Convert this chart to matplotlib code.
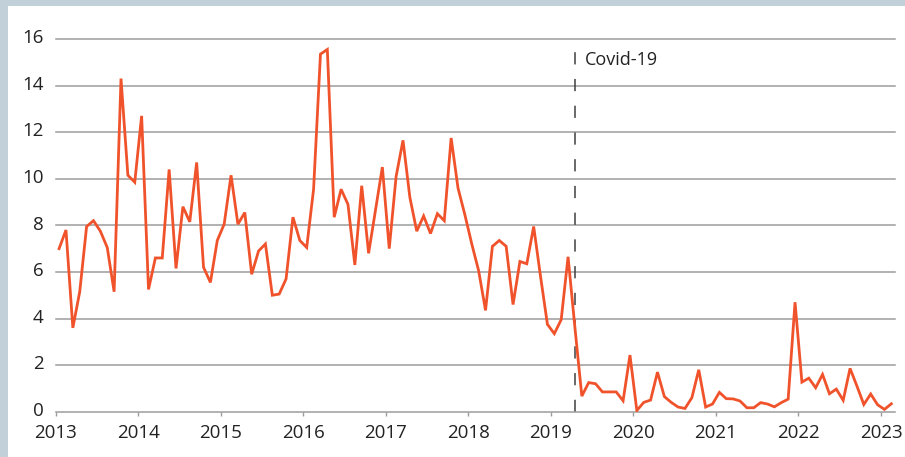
import matplotlib
matplotlib.use("Agg")
import matplotlib.pyplot as plt
import matplotlib.transforms as mtransforms
from matplotlib.patches import Rectangle
import numpy as np
import pandas as pd

# monthly values, Jan 2013 - Feb 2023
values = [
    7.0, 7.8, 3.6, 5.15, 7.95, 8.2, 7.75, 7.05, 5.15, 14.3, 10.15, 9.85,
    12.7, 5.25, 6.6, 6.6, 10.4, 6.15, 8.8, 8.15, 10.7, 6.2, 5.55, 7.35,
    8.05, 10.15, 8.05, 8.55, 5.9, 6.9, 7.2, 5.0, 5.05, 5.7, 8.35, 7.35,
    7.05, 9.55, 15.35, 15.55, 8.35, 9.55, 8.9, 6.3, 9.7, 6.8, 8.65, 10.5,
    7.0, 10.1, 11.65, 9.2, 7.75, 8.4, 7.65, 8.5, 8.2, 11.75, 9.6, 8.45,
    7.2, 6.05, 4.35, 7.1, 7.35, 7.1, 4.6, 6.45, 6.35, 7.95, 5.8, 3.75,
    3.35, 3.95, 6.65, 3.6, 0.67, 1.25, 1.2, 0.85, 0.85, 0.85, 0.47, 2.43,
    0.05, 0.4, 0.5, 1.7, 0.65, 0.4, 0.2, 0.14, 0.6, 1.8, 0.2, 0.33,
    0.83, 0.56, 0.55, 0.46, 0.17, 0.17, 0.39, 0.33, 0.21, 0.39, 0.54, 4.7,
    1.27, 1.44, 1.03, 1.6, 0.77, 0.97, 0.49, 1.86, 1.1, 0.31, 0.76, 0.3,
    0.1, 0.34,
]
start_month = "2013-01"
covid_month = "2019-04"
covid_label = "Covid-19"
year_ticks = list(range(2013, 2024))
y_ticks = [0, 2, 4, 6, 8, 10, 12, 14, 16]

line_color = "#F0532B"
grid_color = "#9C9C9C"
text_color = "#222222"
frame_color = "#C2D0D9"

plt.rcParams["font.family"] = ["Open Sans", "DejaVu Sans"]

months = pd.period_range(start_month, periods=len(values), freq="M")
x = months.year + (months.month - 0.5) / 12
cv = pd.Period(covid_month, freq="M")
covid_x = cv.year + (cv.month - 0.5) / 12

fig = plt.figure(figsize=(9.05, 4.57), dpi=100, facecolor=frame_color)
# white panel inside the blue-grey frame
fig.patches.append(Rectangle((8 / 905, 0), 1, 1 - 6 / 457, transform=fig.transFigure,
                             facecolor="white", edgecolor="none", zorder=-5))

ax = fig.add_axes([0.0615, 0.0991, 0.989 - 0.0615, 0.9147 - 0.0991])
ax.set_facecolor("none")

for yv in y_ticks[1:]:
    ax.axhline(yv, color=grid_color, lw=1.1, zorder=1, clip_on=False)

ax.plot(x, values, color=line_color, lw=2.0, solid_joinstyle="miter", zorder=3)

vl = ax.vlines(covid_x, 0, 15.45, color="#404040", lw=1.1, zorder=2)
vl.set_linestyle((0, (8, 9.5)))
ax.annotate(covid_label, xy=(covid_x, 15.1), xytext=(7, 0), textcoords="offset points",
            va="center", ha="left", fontsize=13, color=text_color)

ax.set_xlim(2013, 2023.17)
ax.set_ylim(0, 16)
ax.set_xticks(year_ticks)
ax.set_xticklabels([str(y) for y in year_ticks])
ax.set_yticks(y_ticks)
ax.set_yticklabels([str(v) for v in y_ticks])

for side in ["top", "right", "left"]:
    ax.spines[side].set_visible(False)
ax.spines["bottom"].set_color(grid_color)
ax.spines["bottom"].set_linewidth(1.1)

ax.tick_params(axis="x", length=3, width=1, color=grid_color, pad=6,
               labelsize=13.5, labelcolor=text_color)
ax.tick_params(axis="y", length=0, pad=8.5, labelsize=13.5, labelcolor=text_color)

offset = mtransforms.ScaledTranslation(0, 2 / 72, fig.dpi_scale_trans)
for lbl in ax.get_yticklabels():
    lbl.set_transform(lbl.get_transform() + offset)

fig.savefig("out.png", dpi=100, facecolor=fig.get_facecolor())
